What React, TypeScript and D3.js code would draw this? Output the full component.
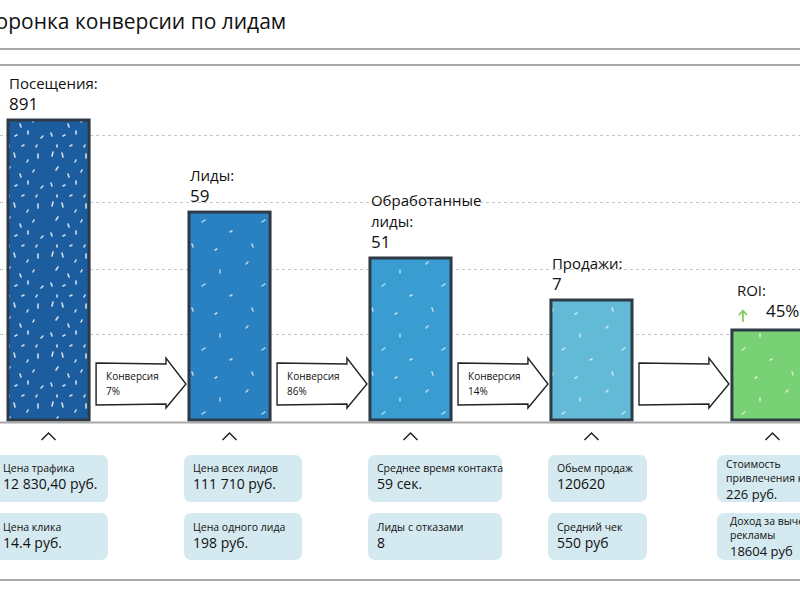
import React from "react";
import * as d3 from "d3";

// ---- data ----
const stageNames: string[][] = [["Посещения:"], ["Лиды:"], ["Обработанные", "лиды:"], ["Продажи:"], ["ROI:"]];
const stageValues: string[] = ["891", "59", "51", "7", "45%"];
// displayed bar height (percent of tallest bar) – decorative funnel
const barLevels: number[] = [100, 69.3, 54, 40, 30];
const gridTicks: number[] = [28.7, 50.3, 72.7, 95];
const conversionValues: string[] = ["7%", "86%", "14%", ""];
const infoTopLabels: string[][] = [["Цена трафика"], ["Цена всех лидов"], ["Среднее время контакта"], ["Обьем продаж"], ["Стоимость", "привлечения клиента"]];
const infoTopValues: string[] = ["12 830,40 руб.", "111 710 руб.", "59 сек.", "120620", "226 руб."];
const infoBottomLabels: string[][] = [["Цена клика"], ["Цена одного лида"], ["Лиды с отказами"], ["Средний чек"], ["Доход за вычетом", "рекламы"]];
const infoBottomValues: string[] = ["14.4 руб.", "198 руб.", "8", "550 руб", "18604 руб"];

// ---- layout / style ----
const W = 800, H = 600;
const FONT = "'Open Sans', 'Noto Sans', sans-serif";
const barColors = ["#1b5d9e", "#2a81c1", "#3a9dd2", "#62bad6", "#79d175"];
const boxX = [-6, 184, 368, 548, 717];
const boxW = [114, 118, 134, 99, 125];
const baseY = 420;

// decorative speckle strokes for the "chalk" texture
const speckDense = [
  [4, 6, 5, 2], [14, 3, 15, 7], [27, 12, 28, 10], [38, 4, 38, 8], [8, 20, 10, 17],
  [20, 24, 21, 27], [33, 22, 34, 20], [3, 33, 4, 36], [15, 36, 17, 35], [28, 31, 28, 34],
  [41, 38, 43, 36], [9, 45, 9, 47], [22, 46, 24, 45], [36, 47, 37, 45],
];
const speckSparse = [
  [6, 8, 8, 6], [40, 14, 40, 17], [22, 30, 25, 28], [50, 40, 52, 39], [12, 52, 13, 55], [35, 58, 37, 57],
];

export default function App() {
  const idx = stageValues.map((_, i) => String(i));
  const x = d3.scaleBand<string>().domain(idx).range([8, 813]).paddingInner(0.552).paddingOuter(0);
  const y = d3.scaleLinear().domain([0, 100]).range([baseY, 120]);
  const bw = x.bandwidth();

  return (
    <svg width={W} height={H} style={{ position: "absolute", left: 0, top: 0, background: "#fff" }} fontFamily={FONT}>
      <defs>
        <pattern id="speckD" width="48" height="50" patternUnits="userSpaceOnUse">
          {speckDense.map((s, i) => (
            <line key={i} x1={s[0]} y1={s[1]} x2={s[2]} y2={s[3]} stroke="#fff" strokeWidth={1.6} strokeLinecap="round" opacity={0.8} />
          ))}
        </pattern>
        <pattern id="speckS" width="60" height="64" patternUnits="userSpaceOnUse">
          {speckSparse.map((s, i) => (
            <line key={i} x1={s[0]} y1={s[1]} x2={s[2]} y2={s[3]} stroke="#fff" strokeWidth={1.4} strokeLinecap="round" opacity={0.7} />
          ))}
        </pattern>
      </defs>

      {/* title */}
      <text x={-18} y={29} fontSize={21} fill="#111">Воронка конверсии по лидам</text>
      <line x1={0} x2={W} y1={49} y2={49} stroke="#a8a8a8" strokeWidth={2} />
      <line x1={0} x2={W} y1={65} y2={65} stroke="#a8a8a8" strokeWidth={2} />

      {/* grid */}
      {gridTicks.map((t, i) => (
        <line key={i} x1={0} x2={W} y1={Math.round(y(t)) + 0.5} y2={Math.round(y(t)) + 0.5} stroke="#c4c4c4" strokeDasharray="3,3" strokeWidth={1} />
      ))}

      {/* bars */}
      {barLevels.map((v, i) => {
        const x0 = x(String(i))!;
        return (
          <g key={i}>
            <rect x={x0} y={y(v)} width={bw} height={baseY - y(v)} fill={barColors[i]} />
            <rect x={x0} y={y(v)} width={bw} height={baseY - y(v)} fill={i === 0 ? "url(#speckD)" : "url(#speckS)"} />
            <rect x={x0} y={y(v)} width={bw} height={baseY - y(v)} fill="none" stroke="#2e3a45" strokeWidth={3} />
          </g>
        );
      })}

      {/* stage labels */}
      {stageNames.map((lines, i) => {
        const x0 = x(String(i))! + 1;
        const top = y(barLevels[i]);
        const n = lines.length;
        if (i === 4) {
          const ax = x0 + 10;
          const ay = top - 16;
          return (
            <g key={i}>
              <text x={x0 + 4} y={top - 34} fontSize={15} fill="#111">{lines[0]}</text>
              <path d={`M${ax},${ay + 7}L${ax},${ay - 3}M${ax - 3.5},${ay + 0.5}L${ax},${ay - 3.5}L${ax + 3.5},${ay + 0.5}`} fill="none" stroke="#86c95e" strokeWidth={1.8} strokeLinecap="round" />
              <text x={x0 + 33} y={top - 13} fontSize={17} fill="#111">{stageValues[i]}</text>
            </g>
          );
        }
        return (
          <g key={i}>
            {lines.map((l, k) => (
              <text key={k} x={x0} y={top - 31 - (n - k) * 21.5 + 21.5} fontSize={15} fill="#111">{l}</text>
            ))}
            <text x={x0} y={top - 10} fontSize={17} fill="#111">{stageValues[i]}</text>
          </g>
        );
      })}

      {/* arrows */}
      {conversionValues.map((c, i) => {
        const l = x(String(i))! + bw + 7;
        const tip = x(String(i + 1))! - 3;
        const hs = tip - 20;
        const p = d3.path();
        p.moveTo(l, 363);
        p.lineTo(hs, 364);
        p.lineTo(hs, 358);
        p.lineTo(tip, 384);
        p.lineTo(hs, 408);
        p.lineTo(hs, 404);
        p.lineTo(l, 405);
        p.closePath();
        return (
          <g key={i}>
            <path d={p.toString()} fill="#fff" stroke="#222" strokeWidth={1.4} strokeLinejoin="miter" />
            {c && (
              <>
                <text x={l + 10} y={380} fontSize={10} fill="#111">Конверсия</text>
                <text x={l + 10} y={395} fontSize={10} fill="#111">{c}</text>
              </>
            )}
          </g>
        );
      })}

      {/* baseline */}
      <line x1={0} x2={W} y1={422.5} y2={422.5} stroke="#a8a8a8" strokeWidth={2} />

      {/* carets */}
      {stageValues.map((_, i) => {
        const cx = x(String(i))! + bw / 2;
        return <polyline key={i} points={`${cx - 7},440 ${cx},433 ${cx + 7},440`} fill="none" stroke="#222" strokeWidth={1.5} />;
      })}

      {/* info boxes */}
      {stageValues.map((_, i) => {
        const bx = boxX[i];
        const tx = bx + 9;
        const tl = infoTopLabels[i];
        const bl = infoBottomLabels[i];
        const multiT = tl.length > 1;
        const multiB = bl.length > 1;
        return (
          <g key={i}>
            <rect x={bx} y={455} width={boxW[i]} height={47} rx={7} fill="#d5e9f0" />
            <rect x={bx} y={513} width={boxW[i]} height={47} rx={7} fill="#d5e9f0" />
            {tl.map((t, k) => (
              <text key={k} x={tx} y={(multiT ? 468 : 472) + k * 14} fontSize={10.5} fill="#111">{t}</text>
            ))}
            <text x={tx} y={multiT ? 499 : 489} fontSize={multiT ? 13 : 14} fill="#111">{infoTopValues[i]}</text>
            {bl.map((t, k) => (
              <text key={k} x={tx + (multiB ? 4 : 0)} y={(multiB ? 525 : 531) + k * 14} fontSize={10.5} fill="#111">{t}</text>
            ))}
            <text x={tx + (multiB ? 4 : 0)} y={multiB ? 556 : 548} fontSize={multiB ? 13 : 14} fill="#111">{infoBottomValues[i]}</text>
          </g>
        );
      })}

      <line x1={0} x2={W} y1={580} y2={580} stroke="#a8a8a8" strokeWidth={2} />
    </svg>
  );
}
